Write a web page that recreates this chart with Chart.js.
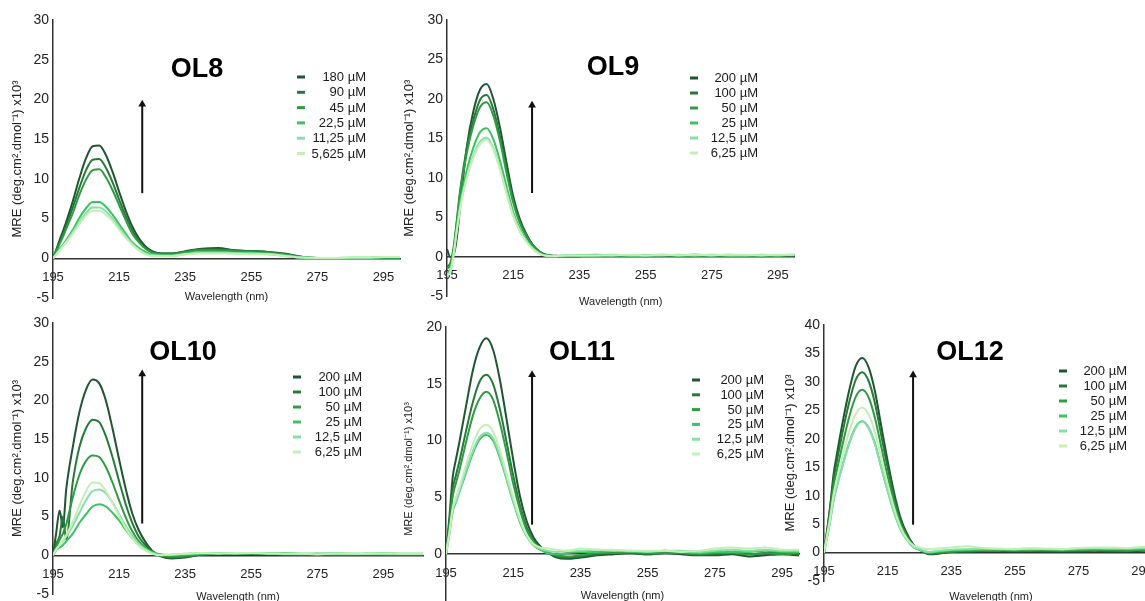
<!DOCTYPE html>
<html>
<head>
<meta charset="utf-8">
<script src="https://cdn.jsdelivr.net/npm/chart.js@4.4.0/dist/chart.umd.min.js"></script>
<style>
  html, body { margin: 0; padding: 0; background: #fff; }
  body { width: 1145px; height: 601px; overflow: hidden; position: relative; }
  canvas { position: absolute; }
</style>
</head>
<body>
<canvas id="ol8"></canvas>
<canvas id="ol9"></canvas>
<canvas id="ol10"></canvas>
<canvas id="ol11"></canvas>
<canvas id="ol12"></canvas>
<script>
// wavelength grid (nm) shared by all spectra
const wavelengths = [195, 196, 197, 198, 199, 201, 203, 205, 207, 209, 211, 213, 215, 217, 219, 221, 223, 225,
  228, 231, 235, 240, 245, 250, 255, 260, 265, 270, 275, 280, 285, 290, 295, 300, 307];
const xTicks = [195, 215, 235, 255, 275, 295];
const seriesColors = ['#1f5530', '#267a38', '#2f9c44', '#3ec260', '#86deaa', '#c4efb6'];

// OL8
const ol8Labels = ['180 µM', '90 µM', '45 µM', '22,5 µM', '11,25 µM', '5,625 µM'];
const ol8_180 = [0, 1.1, 2.3, 3.4, 4.6, 7.2, 10.1, 12.6, 14.1, 14.2, 13.0, 10.9, 8.4, 6.0, 4.0, 2.5, 1.5, 0.9, 0.6, 0.6, 0.9, 1.2, 1.3, 1.0, 0.9, 0.8, 0.6, 0.2, 0.05, 0.05, 0.05, 0.05, 0.1, 0.1, 0.1];
const ol8_90 = [0, 1.0, 2.0, 3.0, 4.1, 6.4, 8.9, 11.1, 12.4, 12.5, 11.4, 9.6, 7.4, 5.3, 3.5, 2.2, 1.3, 0.8, 0.6, 0.6, 0.8, 1.1, 1.1, 1.0, 0.9, 0.8, 0.5, 0.2, 0.05, 0.05, 0.05, 0.05, 0.1, 0.1, 0.1];
const ol8_45 = [0, 0.9, 1.8, 2.7, 3.7, 5.7, 8.0, 9.9, 11.1, 11.2, 10.2, 8.6, 6.7, 4.8, 3.1, 2.0, 1.2, 0.7, 0.5, 0.5, 0.8, 1.0, 1.0, 0.9, 0.8, 0.7, 0.5, 0.2, 0.05, 0.05, 0.05, 0.05, 0.1, 0.1, 0.1];
const ol8_22 = [0, 0.6, 1.2, 1.7, 2.3, 3.6, 5.1, 6.3, 7.1, 7.1, 6.5, 5.5, 4.3, 3.1, 2.0, 1.3, 0.8, 0.5, 0.4, 0.4, 0.6, 0.8, 0.8, 0.7, 0.7, 0.6, 0.4, 0.1, 0.05, 0.05, 0.05, 0.05, 0.1, 0.1, 0.1];
const ol8_11 = [0, 0.5, 1.0, 1.6, 2.1, 3.3, 4.6, 5.7, 6.4, 6.4, 5.9, 5.0, 3.9, 2.8, 1.8, 1.1, 0.6, 0.4, 0.3, 0.3, 0.5, 0.7, 0.7, 0.6, 0.6, 0.5, 0.3, 0.1, 0.05, 0.05, 0.1, 0.1, 0.15, 0.15, 0.15];
const ol8_5 = [0, 0.5, 1.0, 1.5, 2.0, 3.1, 4.3, 5.4, 6.0, 6.0, 5.5, 4.7, 3.6, 2.6, 1.7, 1.0, 0.5, 0.3, 0.3, 0.3, 0.5, 0.6, 0.6, 0.6, 0.5, 0.5, 0.3, 0.1, 0.05, 0.05, 0.1, 0.1, 0.15, 0.15, 0.15];
const ol8Arrow = [{ x: 222, y: 8.2 }, { x: 222, y: 19.4 }];

// OL9
const ol9Labels = ['200 µM', '100 µM', '50 µM', '25 µM', '12,5 µM', '6,25 µM'];
const ol9_200 = [1.0, 0.0, 0.3, 2.5, 6.5, 14.0, 18.5, 21.2, 21.9, 20.0, 16.4, 11.9, 7.7, 4.8, 2.9, 1.5, 0.7, 0.3, 0.15, 0.1, 0.1, 0.2, 0.2, 0.2, 0.2, 0.2, 0.2, 0.3, 0.2, 0.2, 0.2, 0.2, 0.2, 0.2, 0.2];
const ol9_100 = [-1.2, -0.8, 1.2, 4.8, 8.5, 13.8, 17.4, 19.9, 20.5, 18.7, 15.3, 11.1, 7.2, 4.5, 2.7, 1.4, 0.6, 0.2, 0.1, 0.1, 0.1, 0.2, 0.2, 0.2, 0.1, 0.2, 0.2, 0.2, 0.2, 0.2, 0.2, 0.1, 0.2, 0.2, 0.2];
const ol9_50 = [-1.5, -1.0, 1.0, 4.5, 8.2, 13.2, 16.7, 19.0, 19.6, 17.9, 14.7, 10.6, 6.9, 4.3, 2.6, 1.4, 0.6, 0.2, 0.1, 0.1, 0.2, 0.2, 0.2, 0.1, 0.2, 0.2, 0.1, 0.2, 0.2, 0.1, 0.2, 0.2, 0.2, 0.2, 0.2];
const ol9_25 = [-2.0, -1.6, 0.6, 3.8, 6.9, 11.0, 13.9, 15.8, 16.3, 14.9, 12.2, 8.9, 5.7, 3.6, 2.1, 1.1, 0.5, 0.2, 0.1, 0.2, 0.2, 0.3, 0.2, 0.2, 0.2, 0.3, 0.2, 0.2, 0.2, 0.3, 0.2, 0.2, 0.2, 0.3, 0.3];
const ol9_12 = [-2.2, -1.8, 0.4, 3.5, 6.4, 10.2, 12.9, 14.6, 15.1, 13.8, 11.3, 8.2, 5.3, 3.3, 2.0, 1.0, 0.4, 0.15, 0.1, 0.2, 0.2, 0.2, 0.3, 0.2, 0.2, 0.2, 0.3, 0.2, 0.3, 0.2, 0.2, 0.3, 0.2, 0.3, 0.3];
const ol9_6 = [-2.4, -1.9, 0.3, 3.4, 6.2, 10.0, 12.6, 14.3, 14.8, 13.6, 11.1, 8.0, 5.2, 3.3, 1.9, 1.0, 0.4, 0.15, 0.1, 0.2, 0.2, 0.2, 0.2, 0.3, 0.2, 0.3, 0.2, 0.3, 0.2, 0.3, 0.3, 0.2, 0.3, 0.3, 0.3];
const ol9Arrow = [{ x: 220.7, y: 8.1 }, { x: 220.7, y: 19.2 }];

// OL10
const ol10Labels = ['200 µM', '100 µM', '50 µM', '25 µM', '12,5 µM', '6,25 µM'];
const ol10_200 = [0, 3.0, 5.8, 3.6, 8.5, 14.0, 18.5, 21.4, 22.7, 22.2, 20.0, 16.4, 12.4, 8.6, 5.4, 3.2, 1.7, 0.6, -0.2, -0.4, -0.3, 0.1, 0.2, 0.3, 0.2, 0.2, 0.1, 0.1, 0.1, 0.1, 0.1, 0.1, 0.15, 0.1, 0.1];
const ol10_100 = [0, 1.5, 2.5, 5.0, 2.0, 9.5, 14.0, 16.4, 17.5, 17.2, 15.4, 12.7, 9.6, 6.6, 4.2, 2.4, 1.3, 0.5, -0.1, -0.3, -0.2, 0.1, 0.2, 0.2, 0.3, 0.2, 0.2, 0.1, 0.2, 0.1, 0.1, 0.2, 0.1, 0.1, 0.1];
const ol10_50 = [0, 1.0, 2.0, 2.8, 4.0, 7.5, 10.4, 12.2, 12.9, 12.7, 11.4, 9.4, 7.1, 4.9, 3.1, 1.8, 1.0, 0.4, 0.0, -0.2, -0.1, 0.1, 0.2, 0.2, 0.2, 0.2, 0.1, 0.1, 0.1, 0.1, 0.1, 0.1, 0.1, 0.1, 0.1];
const ol10_25 = [0, 0.7, 1.0, 1.3, 1.8, 2.8, 4.2, 5.3, 6.3, 6.6, 6.3, 5.5, 4.5, 3.3, 2.2, 1.4, 0.8, 0.4, 0.1, 0.0, 0.1, 0.2, 0.3, 0.3, 0.3, 0.2, 0.3, 0.2, 0.2, 0.2, 0.2, 0.2, 0.2, 0.2, 0.2];
const ol10_12 = [0, 0.8, 1.3, 1.8, 2.4, 3.8, 5.5, 7.1, 8.3, 8.5, 8.0, 6.8, 5.3, 3.8, 2.5, 1.5, 0.8, 0.3, 0.0, 0.1, 0.2, 0.3, 0.3, 0.2, 0.3, 0.3, 0.2, 0.2, 0.2, 0.3, 0.2, 0.2, 0.3, 0.2, 0.2];
const ol10_6 = [0, 0.8, 1.3, 1.9, 2.6, 4.3, 6.4, 8.3, 9.4, 9.3, 8.3, 6.8, 5.1, 3.5, 2.2, 1.2, 0.6, 0.2, 0.0, 0.1, 0.2, 0.3, 0.2, 0.3, 0.3, 0.2, 0.2, 0.2, 0.1, 0.2, 0.2, 0.2, 0.2, 0.2, 0.2];
const ol10Arrow = [{ x: 222, y: 4.1 }, { x: 222, y: 23.4 }];

// OL11
const ol11Labels = ['200 µM', '100 µM', '50 µM', '25 µM', '12,5 µM', '6,25 µM'];
const ol11_200 = [0, 3.2, 6.8, 8.4, 9.9, 13.1, 16.2, 18.2, 19.0, 18.0, 15.4, 11.9, 8.3, 5.1, 2.9, 1.5, 0.7, 0.2, -0.3, -0.4, -0.3, -0.1, 0.0, 0.1, 0.0, 0.1, 0.0, -0.1, -0.1, 0.0, -0.2, -0.1, 0.0, -0.1, -0.1];
const ol11_100 = [0, 2.7, 5.7, 7.0, 8.2, 10.9, 13.4, 15.2, 15.8, 15.0, 12.8, 9.9, 6.9, 4.3, 2.4, 1.2, 0.6, 0.2, -0.2, -0.3, -0.2, 0.0, 0.1, 0.1, 0.0, 0.1, 0.1, 0.0, 0.0, 0.1, 0.0, 0.1, 0.1, 0.0, 0.0];
const ol11_50 = [0, 2.4, 5.1, 6.3, 7.4, 9.9, 12.2, 13.7, 14.3, 13.6, 11.6, 9.0, 6.2, 3.9, 2.1, 1.1, 0.5, 0.2, -0.1, -0.2, -0.1, 0.1, 0.1, 0.2, 0.1, 0.1, 0.1, 0.0, 0.1, 0.1, 0.0, 0.1, 0.0, 0.1, 0.1];
const ol11_25 = [0, 1.8, 3.8, 4.6, 5.5, 7.2, 8.9, 10.1, 10.5, 10.0, 8.5, 6.6, 4.6, 2.8, 1.6, 0.8, 0.4, 0.1, 0.0, 0.1, 0.2, 0.2, 0.3, 0.2, 0.2, 0.3, 0.2, 0.1, 0.2, 0.2, 0.2, 0.3, 0.2, 0.2, 0.2];
const ol11_12 = [0, 1.8, 3.9, 4.7, 5.6, 7.4, 9.1, 10.3, 10.7, 10.2, 8.7, 6.7, 4.7, 2.9, 1.6, 0.8, 0.5, 0.3, 0.2, 0.3, 0.3, 0.4, 0.3, 0.3, 0.2, 0.3, 0.3, 0.2, 0.3, 0.4, 0.3, 0.4, 0.3, 0.3, 0.3];
const ol11_6 = [0, 1.9, 4.1, 5.0, 5.9, 7.9, 9.7, 11.0, 11.4, 10.8, 9.2, 7.1, 5.0, 3.1, 1.7, 0.9, 0.6, 0.5, 0.4, 0.3, 0.5, 0.4, 0.4, 0.3, 0.3, 0.3, 0.2, 0.3, 0.5, 0.6, 0.5, 0.6, 0.4, 0.4, 0.4];
const ol11Arrow = [{ x: 220.6, y: 2.6 }, { x: 220.6, y: 15.8 }];

// OL12
const ol12Labels = ['200 µM', '100 µM', '50 µM', '25 µM', '12,5 µM', '6,25 µM'];
const ol12_200 = [0, 4.1, 8.5, 13.7, 17.1, 23.3, 28.7, 32.8, 34.2, 32.6, 28.4, 22.2, 16.1, 10.6, 6.2, 3.4, 1.5, 0.6, -0.3, -0.2, 0.1, 0.2, 0.3, 0.3, 0.2, 0.3, 0.2, 0.2, 0.2, 0.3, 0.2, 0.2, 0.3, 0.3, 0.3];
const ol12_100 = [0, 3.8, 7.9, 12.7, 15.9, 21.6, 26.6, 30.4, 31.7, 30.2, 26.3, 20.6, 14.9, 9.8, 5.7, 3.1, 1.4, 0.6, -0.2, -0.1, 0.1, 0.2, 0.3, 0.4, 0.3, 0.3, 0.3, 0.3, 0.3, 0.4, 0.3, 0.3, 0.4, 0.3, 0.3];
const ol12_50 = [0, 3.4, 7.2, 11.4, 14.3, 19.4, 24.0, 27.4, 28.6, 27.3, 23.7, 18.6, 13.4, 8.9, 5.1, 2.8, 1.3, 0.5, -0.1, 0.0, 0.2, 0.3, 0.4, 0.4, 0.3, 0.4, 0.4, 0.3, 0.4, 0.4, 0.4, 0.3, 0.5, 0.4, 0.4];
const ol12_25 = [0, 2.8, 5.8, 9.2, 11.6, 15.7, 19.4, 22.1, 23.1, 22.0, 19.2, 15.0, 10.9, 7.2, 4.2, 2.3, 1.0, 0.5, 0.0, 0.2, 0.4, 0.5, 0.5, 0.6, 0.5, 0.5, 0.6, 0.5, 0.6, 0.6, 0.7, 0.6, 0.6, 0.6, 0.6];
const ol12_12 = [0, 2.8, 5.8, 9.2, 11.5, 15.6, 19.3, 22.0, 23.0, 21.9, 19.1, 14.9, 10.8, 7.1, 4.1, 2.3, 1.0, 0.6, 0.1, 0.3, 0.5, 0.6, 0.7, 0.6, 0.6, 0.7, 0.6, 0.6, 0.7, 0.8, 0.7, 0.7, 0.8, 0.7, 0.7];
const ol12_6 = [0, 3.1, 6.4, 10.2, 12.8, 17.3, 21.4, 24.4, 25.5, 24.3, 21.2, 16.6, 12.0, 7.9, 4.6, 2.5, 1.3, 0.9, 0.6, 0.7, 0.9, 1.1, 0.8, 0.7, 0.6, 0.7, 0.7, 0.6, 0.8, 0.9, 0.9, 0.8, 1.0, 0.9, 0.9];
const ol12Arrow = [{ x: 223, y: 4.9 }, { x: 223, y: 31.2 }];

const yTitle = 'MRE (deg.cm².dmol⁻¹) x10³';
const FONT = '"Liberation Sans", Arial, Helvetica, sans-serif';
Chart.defaults.font.family = FONT;
Chart.defaults.color = '#222';

// draws the panel name and the right-aligned legend
const panelText = {
  id: 'panelText',
  afterDraw(chart, args, o) {
    const ctx = chart.ctx;
    ctx.save();
    ctx.fillStyle = '#000';
    ctx.font = 'bold 27px ' + FONT;
    ctx.textAlign = 'center';
    ctx.textBaseline = 'middle';
    ctx.fillText(o.title, o.titleX, o.titleY);
    ctx.font = '13px ' + FONT;
    ctx.textAlign = 'right';
    o.labels.forEach((lab, i) => {
      const y = o.legendY + i * o.rowH;
      ctx.strokeStyle = seriesColors[i];
      ctx.lineWidth = 3;
      ctx.beginPath();
      ctx.moveTo(o.dashX, y);
      ctx.lineTo(o.dashX + 8, y);
      ctx.stroke();
      ctx.fillStyle = '#1a1a1a';
      ctx.fillText(lab, o.textRight, y + 0.5);
    });
    ctx.restore();
  }
};

function makePanel(p) {
  const canvas = document.getElementById(p.id);
  canvas.width = p.w;
  canvas.height = p.h;
  canvas.style.left = p.left + 'px';
  canvas.style.top = p.top + 'px';

  const datasets = p.series.map((arr, i) => ({
    label: p.labels[i],
    data: wavelengths.map((w, j) => ({ x: w, y: arr[j] })),
    borderColor: seriesColors[i],
    borderWidth: 2,
    pointRadius: 0,
    cubicInterpolationMode: 'monotone',
    fill: false,
  })).reverse();
  datasets.push({
    label: 'arrow',
    data: p.arrow,
    borderColor: '#111',
    borderWidth: 2,
    pointRadius: [0, 4.5],
    pointStyle: 'triangle',
    pointBackgroundColor: '#111',
    pointBorderWidth: 0,
  });

  new Chart(canvas, {
    type: 'line',
    data: { datasets },
    options: {
      responsive: false,
      animation: false,
      events: [],
      layout: { padding: { top: p.pad[0], right: p.pad[1], bottom: p.pad[2], left: 0 } },
      plugins: {
        legend: { display: false },
        tooltip: { enabled: false },
        panelText: p.text,
      },
      scales: {
        x: {
          type: 'linear',
          position: { y: 0 },
          min: 195,
          max: p.xMax,
          afterBuildTicks: (axis) => { axis.ticks = xTicks.map(v => ({ value: v })); },
          grid: { display: false, drawTicks: false },
          border: { display: true, color: '#333', width: 1.5 },
          ticks: { padding: 11, font: { size: 13 }, color: '#222', maxRotation: 0 },
          title: { display: true, text: 'Wavelength (nm)', font: { size: 11 }, color: '#222', padding: { top: p.xTitlePad, bottom: 2 } },
        },
        y: {
          min: -5,
          max: p.yMax,
          afterFit: (s) => { s.width = p.axisW; },
          grid: { display: false, drawTicks: false },
          border: { display: true, color: '#333', width: 1.5 },
          ticks: { stepSize: 5, padding: 4, font: { size: 14 }, color: '#222' },
          title: { display: true, text: yTitle, font: { size: p.yTitleSize }, color: '#222', padding: { top: p.yTitlePad, bottom: 0 } },
        },
      },
    },
    plugins: [panelText],
  });
}

makePanel({
  id: 'ol8', left: 0, top: 0, w: 415, h: 318, pad: [20, 15, 20], axisW: 53, xMax: 300, yMax: 30,
  yTitleSize: 13, yTitlePad: 10, xTitlePad: -6,
  series: [ol8_180, ol8_90, ol8_45, ol8_22, ol8_11, ol8_5], labels: ol8Labels, arrow: ol8Arrow,
  text: { title: 'OL8', titleX: 197, titleY: 70, labels: ol8Labels, dashX: 297, textRight: 366, legendY: 77, rowH: 15.3 },
});
makePanel({
  id: 'ol9', left: 400, top: 0, w: 407, h: 317, pad: [20, 12.5, 20.5], axisW: 47, xMax: 300, yMax: 30,
  yTitleSize: 13, yTitlePad: 2, xTitlePad: 1,
  series: [ol9_200, ol9_100, ol9_50, ol9_25, ol9_12, ol9_6], labels: ol9Labels, arrow: ol9Arrow,
  text: { title: 'OL9', titleX: 213, titleY: 68, labels: ol9Labels, dashX: 290, textRight: 358, legendY: 78, rowH: 15 },
});
makePanel({
  id: 'ol10', left: 0, top: 310, w: 433, h: 304, pad: [13, 10, 20], axisW: 53, xMax: 307, yMax: 30,
  yTitleSize: 13, yTitlePad: 10, xTitlePad: -3,
  series: [ol10_200, ol10_100, ol10_50, ol10_25, ol10_12, ol10_6], labels: ol10Labels, arrow: ol10Arrow,
  text: { title: 'OL10', titleX: 183, titleY: 43, labels: ol10Labels, dashX: 293, textRight: 362, legendY: 67, rowH: 15 },
});
makePanel({
  id: 'ol11', left: 400, top: 310, w: 411, h: 321, pad: [17, 12, 20], axisW: 46, xMax: 300, yMax: 20,
  yTitleSize: 11, yTitlePad: 2, xTitlePad: -2,
  series: [ol11_200, ol11_100, ol11_50, ol11_25, ol11_12, ol11_6], labels: ol11Labels, arrow: ol11Arrow,
  text: { title: 'OL11', titleX: 182, titleY: 43, labels: ol11Labels, dashX: 292, textRight: 364, legendY: 70, rowH: 14.8 },
});
makePanel({
  id: 'ol12', left: 770, top: 310, w: 400, h: 291, pad: [15, 12, 20], axisW: 54, xMax: 300, yMax: 40,
  yTitleSize: 13, yTitlePad: 13, xTitlePad: 0,
  series: [ol12_200, ol12_100, ol12_50, ol12_25, ol12_12, ol12_6], labels: ol12Labels, arrow: ol12Arrow,
  text: { title: 'OL12', titleX: 200, titleY: 43, labels: ol12Labels, dashX: 289, textRight: 357, legendY: 61, rowH: 15 },
});
</script>
</body>
</html>
